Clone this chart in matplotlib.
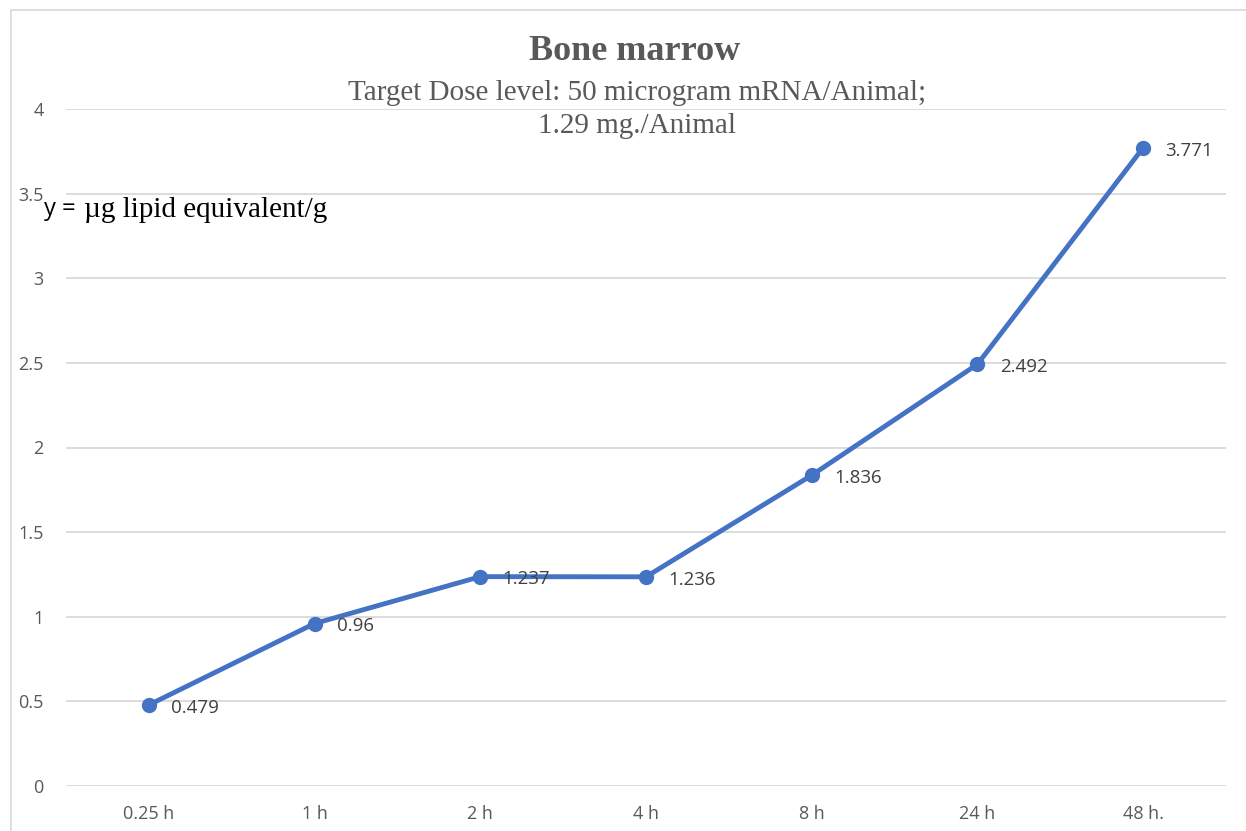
import matplotlib
matplotlib.use("Agg")
import matplotlib.pyplot as plt
from matplotlib.patches import Rectangle

# 資料
time_labels = ["0.25 h", "1 h", "2 h", "4 h", "8 h", "24 h", "48 h."]
lipid_values = [0.479, 0.96, 1.237, 1.236, 1.836, 2.492, 3.771]
value_texts = ["0.479", "0.96", "1.237", "1.236", "1.836", "2.492", "3.771"]
y_ticks = [0, 0.5, 1, 1.5, 2, 2.5, 3, 3.5, 4]
y_tick_labels = ["0", "0.5", "1", "1.5", "2", "2.5", "3", "3.5", "4"]

LINE_COLOR = "#4472C4"
TEXT_GRAY = "#595959"
SANS = ["Open Sans", "DejaVu Sans"]
SERIF = ["Liberation Serif", "DejaVu Serif"]

fig = plt.figure(figsize=(12.46, 8.31), dpi=100)

# 外框 (Excel 圖表區邊線，右/下被裁掉)
fig.patches.append(Rectangle((11 / 1246, -0.05), 1.2, (831 - 10) / 831 + 0.05,
                             transform=fig.transFigure, fill=False,
                             edgecolor="#d9d9d9", linewidth=1.2))

ax = fig.add_axes([66 / 1246, 45 / 831, (1226 - 66) / 1246, (786 - 109) / 831])
x = list(range(len(time_labels)))
ax.plot(x, lipid_values, "o-", color=LINE_COLOR, linewidth=3.5,
        markersize=10, zorder=3, solid_capstyle="round")

for xi, yi, t in zip(x, lipid_values, value_texts):
    ax.annotate(t, (xi, yi), xytext=(16, -2), textcoords="offset points",
                ha="left", va="center", fontsize=13.5, color="#404040",
                family=SANS, zorder=4)

ax.set_xlim(-0.5, len(time_labels) - 0.5)
ax.set_ylim(0, 4)
ax.set_xticks(x)
ax.set_xticklabels(time_labels, family=SANS, fontsize=13, color=TEXT_GRAY)
ax.set_yticks(y_ticks)
ax.set_yticklabels(y_tick_labels, family=SANS, fontsize=13, color=TEXT_GRAY)
ax.tick_params(length=0)
ax.tick_params(axis="x", pad=14)
ax.tick_params(axis="y", pad=16)
ax.grid(True, axis="y", color="#d9d9d9", linewidth=1.3)
ax.set_axisbelow(True)
for s in ax.spines.values():
    s.set_visible(False)

fig.text(635 / 1246, 1 - 52 / 831, "Bone marrow", ha="center", va="center",
         family=SERIF, fontsize=26, fontweight="bold", color=TEXT_GRAY)
fig.text(637 / 1246, 1 - 93 / 831, "Target Dose level: 50 microgram mRNA/Animal;",
         ha="center", va="center", family=SERIF, fontsize=21, color=TEXT_GRAY)
fig.text(637 / 1246, 1 - 126 / 831, "1.29 mg./Animal",
         ha="center", va="center", family=SERIF, fontsize=21, color=TEXT_GRAY)
# y 標籤：「y =」為無襯線字、其餘為 Times 類襯線字
fig.text(44 / 1246, 1 - 209 / 831, "y =",
         ha="left", va="center", family=SANS, fontsize=17, color="black")
fig.text(84 / 1246, 1 - 210 / 831, "µg lipid equivalent/g",
         ha="left", va="center", family=SERIF, fontsize=21, color="black")

plt.savefig("out.png", dpi=100)
